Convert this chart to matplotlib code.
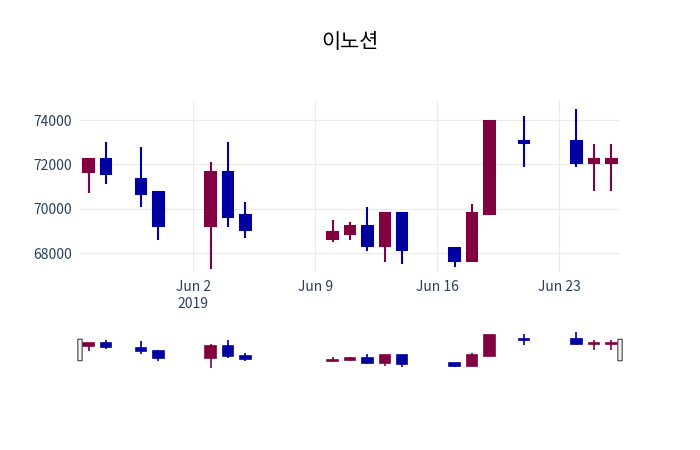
import matplotlib
matplotlib.use("Agg")
import matplotlib.pyplot as plt
import matplotlib.dates as mdates
import numpy as np
from matplotlib.patches import FancyBboxPatch

plt.rcParams['font.family'] = ['Noto Sans CJK KR', 'DejaVu Sans']

dates = ["2019-05-27","2019-05-28","2019-05-30","2019-05-31","2019-06-03","2019-06-04","2019-06-05",
         "2019-06-10","2019-06-11","2019-06-12","2019-06-13","2019-06-14","2019-06-17","2019-06-18",
         "2019-06-19","2019-06-21","2019-06-24","2019-06-25","2019-06-26"]
opens  = [71670,72230,71340,70740,69250,71640,69730,68650,68860,69240,68350,69820,68230,67650,69750,73040,73040,72080,72080]
closes = [72240,71570,70650,69250,71640,69640,69060,68940,69240,68340,69820,68140,67650,69820,73950,72950,72080,72230,72230]
highs  = [72270,72990,72800,70800,72090,72990,70290,69500,69390,70100,69820,69820,68290,70200,74000,74200,74500,72900,72900]
lows   = [70700,71100,70100,68600,67290,69190,68710,68490,68600,68110,67590,67500,67390,67650,69720,71900,71900,70800,70800]

UP = '#800040'
DN = '#0000a0'

x = mdates.date2num(np.array(dates, dtype='datetime64[D]'))
o, c, h, l = map(np.array, (opens, closes, highs, lows))
col = [UP if cc >= oo else DN for oo, cc in zip(o, c)]

fig = plt.figure(figsize=(7, 4.5), dpi=100)
fig.text(0.5, 1 - 42/450, "이노션", ha='center', va='center', fontsize=15)

def draw(ax, lw_w, w):
    bot = np.minimum(o, c); hgt = np.maximum(np.abs(c - o), 40)
    ax.vlines(x, l, h, colors=col, lw=lw_w, zorder=2)
    ax.bar(x, hgt, bottom=bot, width=w, color=col, edgecolor=col, lw=lw_w, zorder=3)

x0 = mdates.date2num(np.datetime64("2019-05-26")) + 0.5
x1 = mdates.date2num(np.datetime64("2019-06-26")) + 0.5

ax = fig.add_axes([80/700, 1-272/450, 540/700, 172/450])
draw(ax, 1.5, 0.6)
ax.set_xlim(x0, x1)
ax.set_ylim(67160, 74900)
ax.set_yticks([68000, 70000, 72000, 74000])
ticks = mdates.date2num(np.array(["2019-06-02","2019-06-09","2019-06-16","2019-06-23"], dtype='datetime64[D]'))
ax.set_xticks(ticks)
ax.set_xticklabels(["Jun 2\n2019", "Jun 9", "Jun 16", "Jun 23"])
ax.grid(True, color='#ebebeb', lw=0.8, zorder=0)
for s in ax.spines.values():
    s.set_visible(False)
ax.tick_params(length=0, labelsize=10, colors='#2a3f5f', pad=6)
ax.set_axisbelow(True)

sl = fig.add_axes([80/700, 1-368/450, 540/700, 36/450])
draw(sl, 1.2, 0.6)
sl.set_xlim(x0, x1)
sl.set_ylim(l.min() - 50, h.max() + 50)
sl.set_xticks([]); sl.set_yticks([])
for s in sl.spines.values():
    s.set_visible(False)
for hx in (0.0, 1.0):
    sl.add_patch(FancyBboxPatch((hx - 0.004, 0.2), 0.008, 0.6, boxstyle="round,pad=0,rounding_size=0.003",
                                transform=sl.transAxes, facecolor='#f2f2f2', edgecolor='#444444',
                                lw=0.8, clip_on=False, zorder=5))

fig.savefig("out.png", dpi=100)
